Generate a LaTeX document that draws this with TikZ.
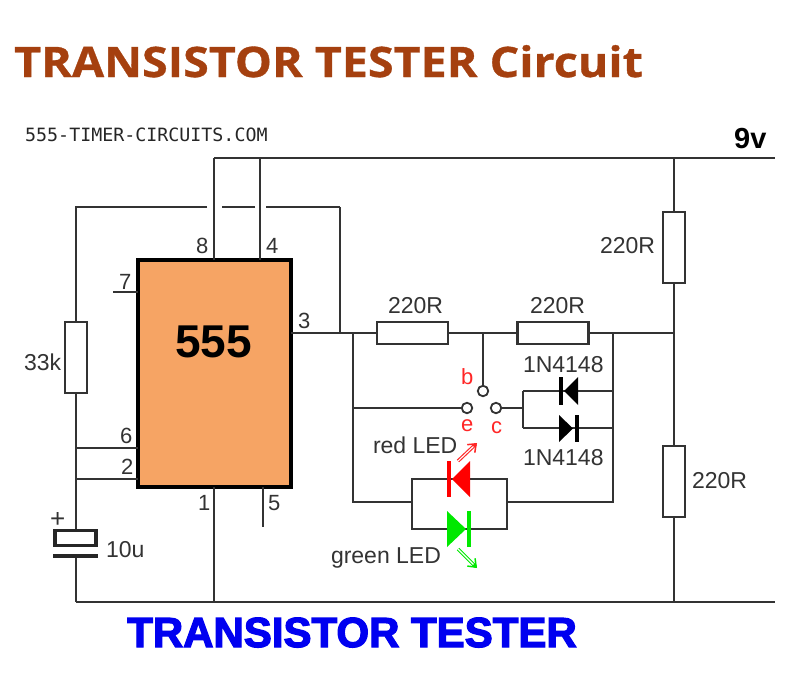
\documentclass[tikz,border=0pt]{standalone}
\usepackage{fontspec}
\setmainfont{Liberation Sans}
\newfontfamily\titlefont[BoldFeatures={FakeStretch=1.11,FakeBold=0.8}]{Open Sans}
\newfontfamily\wmfont{DejaVu Sans Mono}
\newfontfamily\blkfont[FakeBold=3]{Liberation Sans Bold}
\usetikzlibrary{arrows.meta}
\definecolor{wire}{HTML}{333333}
\definecolor{chipfill}{HTML}{F6A464}
\definecolor{titlec}{HTML}{A5400F}
\definecolor{bluet}{HTML}{0000F0}
\definecolor{redl}{HTML}{FF0000}
\definecolor{greenl}{HTML}{00E800}
\newcommand{\fs}[1]{\fontsize{#1}{#1}\selectfont}
\tikzset{
  w/.style={draw=wire,line width=2.2pt},
  res/.style={draw=wire,line width=2.2pt,fill=white,rectangle,inner sep=0pt,outer sep=0pt},
  hres/.style={res,minimum width=71pt,minimum height=22pt},
  vres/.style={res,minimum width=22pt,minimum height=71pt},
  chip/.style={draw=black,line width=4pt,fill=chipfill,rectangle,inner sep=0pt,outer sep=0pt,minimum width=153pt,minimum height=227pt},
  term/.style={circle,draw=wire,line width=1.8pt,fill=white,inner sep=0pt,outer sep=0pt,minimum size=10.5pt},
  lab/.style={anchor=base west,inner sep=0pt,outer sep=0pt,text=black!80,font=\fs{23}},
  pin/.style={lab,font=\fs{22}},
  tlab/.style={lab,text=redl!85!white,font=\fs{22}},
}
\begin{document}
\begin{tikzpicture}[x=1pt,y=-1pt]
\useasboundingbox (0,0) rectangle (800,680);
\fill[white] (0,0) rectangle (800,680);
\coordinate (p8) at (214,158); \coordinate (p4) at (260,158);
\coordinate (vr) at (775,158); \coordinate (topr) at (674,158);
\coordinate (gl) at (76,602); \coordinate (gr) at (775,602); \coordinate (gm) at (214,602); \coordinate (gn) at (674,602);
\coordinate (a) at (340,333); \coordinate (j1) at (353,333); \coordinate (j2) at (483,333);
\coordinate (j3) at (613,333); \coordinate (j4) at (674,333);
\coordinate (tl) at (76,207); \coordinate (tr) at (340,207);
\coordinate (j6) at (76,448); \coordinate (j2b) at (76,479);
\coordinate (je) at (353,408); \coordinate (jl) at (353,502); \coordinate (jr) at (613,502);
\coordinate (ll) at (412,502); \coordinate (lr) at (507,502);
\coordinate (dl) at (523,408); \coordinate (du) at (523,391); \coordinate (dd) at (523,428);
\coordinate (du2) at (613,391); \coordinate (dd2) at (613,428);
\coordinate (lut) at (412,479); \coordinate (lur) at (507,479);
\coordinate (lbt) at (412,529); \coordinate (lbr) at (507,529);
\coordinate (p7) at (113,292); \coordinate (p5) at (263,527);
\coordinate (capt) at (76,531); \coordinate (capb) at (76,556);
\coordinate (ra) at (458,461); \coordinate (rb) at (477,443);
\coordinate (ga) at (458,549); \coordinate (gb) at (477,568);
\node[chip] (ic) at (214.5,373.5) {};
\node[hres] (r1) at (412.5,333) {};
\node[hres] (r2) at (553,333) {};
\node[vres] (r3) at (674,247.5) {};
\node[vres] (r4) at (674,481.5) {};
\node[vres] (r5) at (76,357.5) {};
\node[term] (tb) at (483,391) {};
\node[term] (te) at (467,408) {};
\node[term] (tc) at (496,408) {};
% wires
\draw[w] (p8) -- (vr);
\draw[w] (p8) -- (ic.north -| p8);
\draw[w] (p4) -- (ic.north -| p4);
\draw[w] (gl) -- (gr);
\draw[w] (gm) -- (ic.south -| gm);
\draw[w] (ic.south -| p5) -- (p5);
\draw[w] (p7) -- (ic.west |- p7);
\draw[w] (ic.east |- a) -- (r1.west);
\draw[w] (r1.east) -- (r2.west);
\draw[w] (r2.east) -- (j4);
\draw[w] (topr) -- (r3.north);
\draw[w] (r3.south) -- (r4.north);
\draw[w] (r4.south) -- (gn);
\draw[w] (a) -- (tr);
\coordinate (g1a) at (207,207); \coordinate (g1b) at (222,207);
\coordinate (g2a) at (255,207); \coordinate (g2b) at (266,207);
\draw[w] (tr) -- (g2b);
\draw[w] (g2a) -- (g1b);
\draw[w] (g1a) -- (tl) -- (r5.north);
\draw[w] (r5.south) -- (capt);
\draw[w] (capb) -- (gl);
\draw[w] (j6) -- (ic.west |- j6);
\draw[w] (j2b) -- (ic.west |- j2b);
\draw[w] (j1) -- (jl) -- (ll);
\draw[w] (je) -- (te);
\draw[w] (j2) -- (tb);
\draw[w] (tc) -- (dl);
\draw[w] (du) -- (dd);
\draw[w] (du) -- (du2);
\draw[w] (dd) -- (dd2);
\draw[w] (j3) -- (jr) -- (lr);
\draw[w] (lut) -- (lbt) -- (lbr) -- (lur) -- cycle;
% capacitor
\node[draw=black!85,line width=3.5pt,fill=white,rectangle,inner sep=0pt,outer sep=0pt,minimum width=41pt,minimum height=15pt] (cap) at (75.5,538) {};
\draw[black!85,line width=4pt] (53,556) -- (98,556);
% diodes
\fill[black] (564,391) -- (578,377) -- (578,405) -- cycle;
\draw[black,line width=3.5pt] (561,377) -- (561,405);
\fill[black] (559,415) -- (573,428.5) -- (559,442) -- cycle;
\draw[black,line width=3.5pt] (577,415) -- (577,442);
% LEDs
\fill[redl] (452,479) -- (470,461) -- (470,497) -- cycle;
\draw[redl,line width=4pt] (449,461) -- (449,497);
\fill[greenl] (447,511) -- (466,529) -- (447,547) -- cycle;
\draw[greenl,line width=4pt] (469,511) -- (469,547);
\draw[redl!85!white,line width=3.4pt,-{Straight Barb[length=7pt,width=11pt,line width=1.5pt]}] (ra) -- (rb);
\draw[white,line width=1.1pt,shorten >=5pt] (ra) -- (rb);
\draw[greenl,line width=3.4pt,-{Straight Barb[length=7pt,width=11pt,line width=1.5pt]}] (ga) -- (gb);
\draw[white,line width=1.1pt,shorten >=5pt] (ga) -- (gb);
% texts
\node[anchor=base west,inner sep=0pt,text=titlec] (title) at (14,77) {\titlefont\bfseries\fs{42}TRANSISTOR TESTER Circuit};
\node[anchor=base west,inner sep=0pt,text=black!85] (wm) at (25,141) {\wmfont\fs{18.3}555-TIMER-CIRCUITS.COM};
\node[anchor=base west,inner sep=0pt,text=black] (v9) at (734,148) {\bfseries\fs{29}9v};
\node[anchor=base,inner sep=0pt,text=black] (n555) at (213.5,357) {\bfseries\fs{46}555};
\node[lab] (l1) at (388,313) {220R};
\node[lab] (l2) at (530,313) {220R};
\node[lab] (l3) at (600,253) {220R};
\node[lab] (l4) at (692,488) {220R};
\node[lab] (l5) at (24,370) {33k};
\node[lab] (l6) at (106,557) {10u};
\node[lab] (l7) at (523,372) {1N4148};
\node[lab] (l8) at (523,465) {1N4148};
\node[lab] (l9) at (373,453) {red LED};
\node[lab] (l10) at (331,563) {green LED};
\node[pin] (n8) at (196,253) {8};
\node[pin] (n4) at (266,253) {4};
\node[pin] (n7) at (119,289) {7};
\node[pin] (n3) at (298,328) {3};
\node[pin] (n6) at (120,443) {6};
\node[pin] (n2) at (121,474) {2};
\node[pin] (n1) at (198,510) {1};
\node[pin] (n5) at (268,510) {5};
\node[tlab] (tbl) at (461,384) {b};
\node[tlab] (tel) at (461,431) {e};
\node[tlab] (tcl) at (491,433) {c};
\node[lab,font=\fs{26}] (plus) at (50,527) {+};
\node[anchor=base west,inner sep=0pt,text=bluet] (bt) at (127,647) {\blkfont\fs{42}TRANSISTOR TESTER};
\end{tikzpicture}
\end{document}
